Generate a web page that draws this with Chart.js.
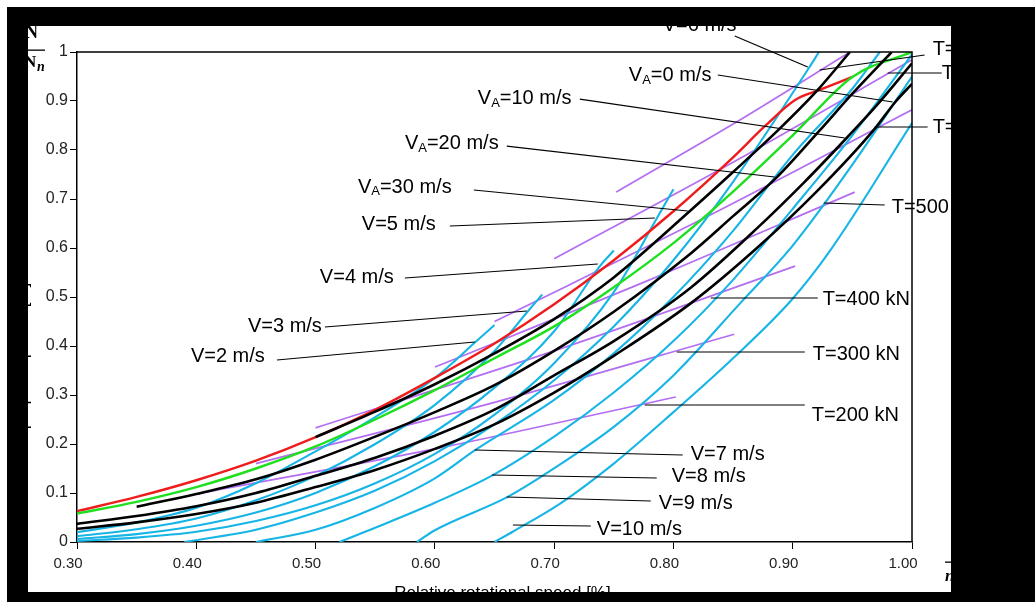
<!DOCTYPE html>
<html><head><meta charset="utf-8">
<script src="https://cdn.jsdelivr.net/npm/chart.js@4.4.1/dist/chart.umd.min.js"></script>
<style>
html,body{margin:0;padding:0;background:#fff;width:1035px;height:602px;overflow:hidden;}
#wrap{position:relative;width:1035px;height:602px;}
canvas{position:absolute;left:0;top:0;}
.blk{position:absolute;background:#000;}
</style></head><body>
<div id="wrap">
<canvas id="c" width="1035" height="602"></canvas>
<div class="blk" style="left:7px;top:7px;width:1028px;height:19px"></div>
<div class="blk" style="left:7px;top:7px;width:21px;height:595px"></div>
<div class="blk" style="left:951px;top:7px;width:84px;height:595px"></div>
<div class="blk" style="left:7px;top:592px;width:1028px;height:10px"></div>
</div>
<script>
// ---- tick labels ----
const xTicks = [0.30, 0.40, 0.50, 0.60, 0.70, 0.80, 0.90, 1.00];
const xTickLabels = ['0.30','0.40','0.50','0.60','0.70','0.80','0.90','1.00'];
const yTicks = [0, 0.1, 0.2, 0.3, 0.4, 0.5, 0.6, 0.7, 0.8, 0.9, 1];
const yTickLabels = ['0','0.1','0.2','0.3','0.4','0.5','0.6','0.7','0.8','0.9','1'];

// ---- curves [relative speed, relative power] ----
const redCurve = [[0.30,0.063],[0.35,0.092],[0.40,0.126],[0.45,0.166],[0.50,0.214],[0.55,0.27],[0.60,0.335],[0.65,0.405],[0.70,0.485],[0.75,0.575],[0.80,0.675],[0.85,0.785],[0.876,0.847],[0.902,0.902],[0.922,0.922],[0.95,0.949]];
const greenCurve = [[0.30,0.058],[0.35,0.082],[0.40,0.112],[0.45,0.15],[0.50,0.195],[0.55,0.25],[0.60,0.31],[0.65,0.375],[0.70,0.44],[0.75,0.52],[0.80,0.61],[0.85,0.715],[0.90,0.83],[0.95,0.949],[1.00,1.00]];

const va30 = [[0.50,0.214],[0.55,0.266],[0.60,0.322],[0.65,0.385],[0.70,0.455],[0.75,0.54],[0.815,0.678],[0.85,0.755],[0.888,0.841],[0.92,0.92],[0.948,1.0]];
const va20 = [[0.35,0.072],[0.40,0.098],[0.45,0.128],[0.50,0.168],[0.55,0.215],[0.60,0.265],[0.65,0.32],[0.70,0.39],[0.75,0.47],[0.815,0.59],[0.85,0.665],[0.887,0.745],[0.923,0.841],[0.95,0.915],[0.983,1.0]];
const va10 = [[0.30,0.037],[0.35,0.053],[0.40,0.073],[0.45,0.10],[0.50,0.135],[0.55,0.172],[0.60,0.217],[0.65,0.27],[0.70,0.34],[0.75,0.41],[0.815,0.52],[0.87,0.64],[0.91,0.735],[0.945,0.824],[0.97,0.89],[1.00,0.977]];
const va0 = [[0.30,0.027],[0.35,0.04],[0.40,0.057],[0.45,0.08],[0.50,0.112],[0.55,0.147],[0.60,0.19],[0.65,0.24],[0.70,0.305],[0.75,0.38],[0.815,0.488],[0.87,0.6],[0.92,0.715],[0.968,0.841],[0.986,0.898],[1.00,0.935]];

const v2 = [[0.30,0.02],[0.35,0.04],[0.40,0.07],[0.45,0.12],[0.50,0.185],[0.55,0.255],[0.60,0.335],[0.634,0.408],[0.65,0.443]];
const v3 = [[0.30,0.012],[0.35,0.026],[0.40,0.048],[0.45,0.085],[0.50,0.135],[0.55,0.2],[0.60,0.28],[0.65,0.39],[0.678,0.471],[0.69,0.505]];
const v4 = [[0.30,0.006],[0.35,0.016],[0.40,0.033],[0.45,0.06],[0.50,0.1],[0.55,0.155],[0.60,0.225],[0.65,0.315],[0.70,0.43],[0.738,0.562],[0.75,0.595]];
const v5 = [[0.30,0.002],[0.35,0.009],[0.40,0.021],[0.45,0.043],[0.50,0.075],[0.55,0.12],[0.60,0.18],[0.65,0.26],[0.70,0.365],[0.75,0.51],[0.786,0.66],[0.80,0.72]];
const v6 = [[0.39,0.0],[0.45,0.025],[0.50,0.06],[0.55,0.105],[0.60,0.165],[0.65,0.24],[0.70,0.33],[0.75,0.44],[0.80,0.575],[0.85,0.735],[0.914,0.969],[0.922,1.0]];
const v7 = [[0.45,0.0],[0.50,0.025],[0.55,0.07],[0.60,0.13],[0.634,0.188],[0.70,0.29],[0.75,0.385],[0.80,0.5],[0.85,0.635],[0.90,0.79],[0.95,0.925],[0.973,1.0]];
const v8 = [[0.52,0.0],[0.552,0.031],[0.60,0.08],[0.649,0.137],[0.70,0.215],[0.75,0.305],[0.80,0.41],[0.85,0.535],[0.90,0.68],[0.95,0.83],[1.00,0.995]];
const v9 = [[0.585,0.0],[0.60,0.024],[0.661,0.092],[0.706,0.16],[0.75,0.235],[0.80,0.34],[0.857,0.49],[0.90,0.605],[0.95,0.77],[1.00,0.95]];
const v10 = [[0.65,0.0],[0.666,0.022],[0.706,0.08],[0.75,0.16],[0.80,0.265],[0.85,0.375],[0.899,0.494],[0.93,0.59],[1.00,0.855]];

const t200 = [[0.40,0.098],[0.60,0.19],[0.802,0.296]];
const t300 = [[0.45,0.16],[0.65,0.285],[0.851,0.424]];
const t400 = [[0.50,0.233],[0.70,0.39],[0.902,0.563]];
const t500 = [[0.60,0.357],[0.78,0.535],[0.952,0.714]];
const t600 = [[0.65,0.45],[0.825,0.66],[1.00,0.882]];
const t700 = [[0.70,0.578],[0.85,0.775],[1.00,0.984]];
const t800 = [[0.752,0.714],[0.85,0.853],[0.948,1.0]];

// ---- annotation labels (data units) ----
const labelText = ['V=6 m/s','V_A=0 m/s','V_A=10 m/s','V_A=20 m/s','V_A=30 m/s','V=5 m/s','V=4 m/s','V=3 m/s','V=2 m/s','V=7 m/s','V=8 m/s','V=9 m/s','V=10 m/s','T=200 kN','T=300 kN','T=400 kN','T=500 kN','T=600 kN','T=700 kN','T=800 kN'];
const labelAt = [[0.791,1.054],[0.7626,0.953],[0.636,0.906],[0.5749,0.814],[0.5355,0.7245],[0.5388,0.649],[0.5036,0.5408],[0.4433,0.4408],[0.3955,0.3776],[0.8145,0.1776],[0.7986,0.1327],[0.7877,0.0796],[0.7358,0.0265],[0.9159,0.2592],[0.9168,0.3837],[0.9251,0.4959],[0.983,0.6827],[1.0173,0.846],[1.0249,0.956],[1.0173,1.006]];
const leaderLines = [[0.8514,1.0327,0.9126,0.9694],[0.8372,0.953,0.9838,0.898],[0.7215,0.904,0.9436,0.8245],[0.6603,0.808,0.8849,0.7449],[0.6327,0.7184,0.812,0.6755],[0.6126,0.6449,0.7844,0.6612],[0.5749,0.5388,0.7366,0.5673],[0.5078,0.4388,0.6771,0.4714],[0.4676,0.3714,0.6335,0.4082],[0.8078,0.1776,0.6335,0.1878],[0.786,0.1306,0.6478,0.1367],[0.781,0.0837,0.6603,0.0918],[0.7307,0.0327,0.6654,0.0347],[0.9101,0.2796,0.776,0.2796],[0.9101,0.3878,0.8028,0.3878],[0.921,0.498,0.8313,0.498],[0.9771,0.6878,0.926,0.6918],[1.0131,0.8469,0.9687,0.8469],[1.0249,0.9571,0.9796,0.9571],[1.0106,0.9939,0.9226,0.9633]];

const FONT = '"Liberation Sans", Arial, Helvetica, sans-serif';
Chart.defaults.font.family = FONT;

const BLACK = '#000000', RED = '#ee1c1c', GREEN = '#1fe01f', CYAN = '#17b5e6', PURPLE = '#b36ef2';
function ds(arr, color, width, order) {
  return { data: arr.map(p => ({x: p[0], y: p[1]})), showLine: true, borderColor: color, backgroundColor: color,
    borderWidth: width, pointRadius: 0, pointHoverRadius: 0, cubicInterpolationMode: 'monotone', fill: false, order: order };
}
const datasets = [
  ...[va30, va20, va10, va0].map(a => ds(a, BLACK, 2.6, 1)),
  ds(greenCurve, GREEN, 2.4, 2),
  ds(redCurve, RED, 2.4, 3),
  ...[v2, v3, v4, v5, v6, v7, v8, v9, v10].map(a => ds(a, CYAN, 2.1, 4)),
  ...[t200, t300, t400, t500, t600, t700, t800].map(a => ds(a, PURPLE, 1.7, 5))
];

const annot = {
  id: 'annot',
  afterDatasetsDraw(chart) {
    const {ctx, chartArea: a} = chart;
    const sx = chart.scales.x, sy = chart.scales.y;
    ctx.save();
    ctx.strokeStyle = '#000'; ctx.lineWidth = 1.5;
    ctx.beginPath(); ctx.moveTo(a.left, a.top); ctx.lineTo(a.right, a.top); ctx.lineTo(a.right, a.bottom); ctx.stroke();
    ctx.lineWidth = 1.2;
    leaderLines.forEach(l => {
      ctx.beginPath();
      ctx.moveTo(sx.getPixelForValue(l[0]), sy.getPixelForValue(l[1]));
      ctx.lineTo(sx.getPixelForValue(l[2]), sy.getPixelForValue(l[3]));
      ctx.stroke();
    });
    ctx.fillStyle = '#000';
    ctx.textAlign = 'left';
    labelText.forEach((t, i) => {
      let px = sx.getPixelForValue(labelAt[i][0]);
      const py = sy.getPixelForValue(labelAt[i][1]);
      ctx.textBaseline = 'middle';
      if (t.indexOf('_') >= 0) {
        const head = t.slice(0, t.indexOf('_'));
        const sub = t.charAt(t.indexOf('_') + 1);
        const rest = t.slice(t.indexOf('_') + 2);
        ctx.font = '20px ' + FONT;
        ctx.fillText(head, px, py); px += ctx.measureText(head).width;
        ctx.font = '13px ' + FONT; ctx.textBaseline = 'alphabetic';
        ctx.fillText(sub, px, py + 8.5); px += ctx.measureText(sub).width;
        ctx.font = '20px ' + FONT; ctx.textBaseline = 'middle';
        ctx.fillText(rest, px, py);
      } else {
        ctx.font = '20px ' + FONT;
        ctx.fillText(t, px, py);
      }
    });
    // axis titles
    ctx.font = '17px ' + FONT; ctx.textAlign = 'center'; ctx.textBaseline = 'alphabetic';
    ctx.fillText('Relative rotational speed [%]', (a.left + a.right) / 2 + 8, a.bottom + 56);
    ctx.save();
    ctx.translate(a.left - 49, (a.top + a.bottom) / 2 + 92);
    ctx.rotate(-Math.PI / 2);
    ctx.fillText('Relative propeller power [%]', 0, 0);
    ctx.restore();
    // N / Nn symbol
    ctx.textAlign = 'left';
    ctx.font = 'bold 18px "Liberation Serif", serif';
    ctx.fillText('N', a.left - 52, a.top - 14);
    ctx.fillRect(a.left - 66, a.top - 2.5, 34, 1.3);
    ctx.font = 'bold 17px "Liberation Serif", serif';
    ctx.fillText('N', a.left - 53, a.top + 15);
    ctx.font = 'bold italic 14px "Liberation Serif", serif';
    ctx.fillText('n', a.left - 40, a.top + 19);
    // n / nn symbol (mostly hidden by frame)
    ctx.fillRect(a.right + 33, a.bottom + 19.5, 30, 1.3);
    ctx.font = 'bold italic 17px "Liberation Serif", serif';
    ctx.fillText('n', a.right + 40, a.bottom + 14);
    ctx.fillText('n', a.right + 33, a.bottom + 39);
    ctx.restore();
  }
};

new Chart(document.getElementById('c'), {
  type: 'scatter',
  data: { datasets },
  options: {
    responsive: false, animation: false, events: [],
    layout: { padding: { left: 27, top: 52, right: 123, bottom: 10 } },
    plugins: { legend: { display: false }, tooltip: { enabled: false } },
    scales: {
      x: {
        type: 'linear', position: 'bottom', min: 0.3, max: 1.0,
        afterBuildTicks: s => { s.ticks = xTicks.map(v => ({ value: v })); },
        ticks: { callback: (v, i) => xTickLabels[i], labelOffset: -9, padding: 6, font: { size: 15 }, color: '#222', maxRotation: 0, autoSkip: false },
        grid: { display: true, drawOnChartArea: false, drawTicks: true, tickLength: 7, color: '#000', lineWidth: 1 },
        border: { display: true, color: '#000', width: 1.5 },
        afterFit: s => { s.height = 50; }
      },
      y: {
        type: 'linear', position: 'left', min: 0, max: 1,
        afterBuildTicks: s => { s.ticks = yTicks.map(v => ({ value: v })); },
        ticks: { callback: (v, i) => yTickLabels[i], padding: 2, font: { size: 16 }, color: '#222', autoSkip: false },
        grid: { display: true, drawOnChartArea: false, drawTicks: true, tickLength: 7, color: '#000', lineWidth: 1 },
        border: { display: true, color: '#000', width: 1.5 },
        afterFit: s => { s.width = 50; }
      }
    }
  },
  plugins: [annot]
});
</script>
</body></html>
